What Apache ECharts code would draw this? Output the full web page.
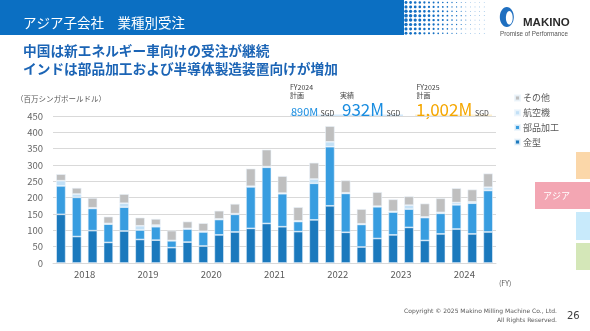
<!DOCTYPE html>
<html>
<head>
<meta charset="utf-8">
<script src="https://cdn.jsdelivr.net/npm/echarts@6/dist/echarts.min.js"></script>
<style>
html,body{margin:0;padding:0;background:#fff;}
#chart{width:590px;height:331px;}
</style>
</head>
<body>
<div id="chart"></div>
<script>
// Quarterly orders of the Asian subsidiaries by industry (million SGD)
const quarters = [
  '2018Q1','2018Q2','2018Q3','2018Q4','2019Q1','2019Q2','2019Q3','2019Q4',
  '2020Q1','2020Q2','2020Q3','2020Q4','2021Q1','2021Q2','2021Q3','2021Q4',
  '2022Q1','2022Q2','2022Q3','2022Q4','2023Q1','2023Q2','2023Q3','2023Q4',
  '2024Q1','2024Q2','2024Q3','2024Q4'
];
const years = ['2018','2019','2020','2021','2022','2023','2024'];
const yTicks = { min: 0, max: 450, step: 50 };

const mold      = [149, 81, 99, 63,  98, 72, 70, 47,  64, 52, 86, 95,  106,121,111, 96,  132,175, 94, 49,  75, 86,109, 69,  89,104, 89, 95];
const parts     = [ 87,120, 68, 56,  73, 29, 41, 21,  40, 43, 47, 54,  127,172,101, 31,  112,181,119, 69,  97, 70, 56, 70,  63, 74, 94,127];
const aerospace = [ 16, 10,  2,  2,  12, 13,  5,  1,   2,  2,  2,  2,    2,  2,  2,  2,   13, 15,  2,  2,   2,  2, 12,  2,   3,  7,  4, 10];
const other     = [ 20, 19, 30, 21,  28, 25, 19, 30,  21, 25, 25, 30,   54, 52, 52, 42,   50, 48, 38, 45,  43, 37, 27, 41,  43, 44, 38, 42];

const seriesDefs = [
  { name: '金型',     data: mold,      color: '#1b79bd' },
  { name: '部品加工', data: parts,     color: '#389de0' },
  { name: '航空機',   data: aerospace, color: '#c2e0f6' },
  { name: 'その他',   data: other,     color: '#bfbfbf' }
];

const JP = '"Noto Sans CJK JP", "Noto Sans", sans-serif';

// header halftone dots fading to the right
const dots = [];
for (let c = 0; c < 18; c++) {
  const x = 406 + c * 4.6;
  for (let r = 0; r < 8; r++) {
    const y = 2.5 + r * 4.4;
    const fade = 1 - c / 18;
    const mid = 1 - Math.abs(r - 3.5) / 6;
    const rad = Math.max(0.35, 1.9 * fade * (0.6 + 0.4 * mid));
    dots.push({ type: 'circle', silent: true,
      shape: { cx: x, cy: y, r: rad },
      style: { fill: '#1470c4' } });
  }
}

const chart = echarts.init(document.getElementById('chart'), null, { renderer: 'canvas' });

chart.setOption({
  animation: false,
  backgroundColor: '#ffffff',
  textStyle: { fontFamily: JP },
  grid: { left: 53, right: 94, top: 116, bottom: 68 },
  legend: {
    orient: 'vertical',
    left: 509, top: 88,
    itemWidth: 5, itemHeight: 5, itemGap: 4.7,
    icon: 'rect',
    data: ['その他', '航空機', '部品加工', '金型'],
    textStyle: { color: '#595959', fontSize: 9, fontFamily: JP, lineHeight: 10, padding: [0, 0, 0, -2] },
    selectedMode: false
  },
  xAxis: [
    { type: 'category', data: quarters, show: false },
    { type: 'category', data: years, position: 'bottom',
      axisLine: { lineStyle: { color: '#d9d9d9', width: 1 } },
      axisTick: { length: 20, lineStyle: { color: '#d9d9d9' } },
      axisLabel: { color: '#595959', fontSize: 9.5, margin: 7, fontFamily: JP } }
  ],
  yAxis: {
    type: 'value', min: yTicks.min, max: yTicks.max, interval: yTicks.step,
    axisLine: { show: false }, axisTick: { show: false },
    splitLine: { lineStyle: { color: '#d9d9d9', width: 1 } },
    axisLabel: { color: '#666666', fontSize: 9.5, margin: 10, fontFamily: JP }
  },
  series: seriesDefs.map(s => ({
    name: s.name, type: 'bar', stack: 'total', xAxisIndex: 0,
    data: s.data, barWidth: 9.5,
    itemStyle: { color: s.color, borderColor: 'rgba(235,244,252,0.85)', borderWidth: 0.7 }
  })),
  graphic: [
    // header band
    { type: 'rect', silent: true, shape: { x: 0, y: 0, width: 404, height: 35 }, style: { fill: '#0b6fc2' } },
    ...dots,
    { type: 'text', silent: true, style: { text: 'アジア子会社　業種別受注', x: 23, y: 23, verticalAlign: 'middle',
      font: '13.5px ' + JP, fill: '#ffffff' } },
    // logo
    { type: 'ellipse', silent: true, shape: { cx: 506.8, cy: 17, rx: 7, ry: 10 }, style: { fill: '#1f6fc0' } },
    { type: 'ellipse', silent: true, shape: { cx: 509.3, cy: 17.8, rx: 3.4, ry: 6.8 }, style: { fill: '#ffffff' } },
    { type: 'text', silent: true, style: { text: 'MAKINO', x: 523, y: 22.5, verticalAlign: 'middle',
      font: 'bold 11.5px "Liberation Sans", Arial, sans-serif', fill: '#2b2b2b' } },
    { type: 'text', silent: true, style: { text: 'Promise of Performance', x: 500, y: 34.5, verticalAlign: 'middle',
      font: '6.3px "Liberation Sans", Arial, sans-serif', fill: '#555555' } },
    // headline
    { type: 'text', silent: true, style: { text: '中国は新エネルギー車向けの受注が継続', x: 23, y: 51, verticalAlign: 'middle',
      font: 'bold 13.7px ' + JP, fill: '#1b64b5' } },
    { type: 'text', silent: true, style: { text: 'インドは部品加工および半導体製造装置向けが増加', x: 23, y: 68.5, verticalAlign: 'middle',
      font: 'bold 13.7px ' + JP, fill: '#1b64b5' } },
    // unit
    { type: 'text', silent: true, style: { text: '（百万シンガポールドル）', x: 16, y: 99, verticalAlign: 'middle',
      font: '7.5px ' + JP, fill: '#595959' } },
    // plan / result annotations
    { type: 'rect', silent: true, shape: { x: 290, y: 114.5, width: 113, height: 2 }, style: { fill: '#d3e9fb' } },
    { type: 'rect', silent: true, shape: { x: 415, y: 114.5, width: 77, height: 2 }, style: { fill: '#fdf0cf' } },
    { type: 'text', silent: true, style: { text: 'FY2024', x: 290, y: 87.5, verticalAlign: 'middle', font: '7px ' + JP, fill: '#404040' } },
    { type: 'text', silent: true, style: { text: '計画', x: 290, y: 95.5, verticalAlign: 'middle', font: '7px ' + JP, fill: '#404040' } },
    { type: 'text', silent: true, style: { text: '890M', x: 291, y: 112, verticalAlign: 'middle', font: '11px ' + JP, fill: '#1a8de0' } },
    { type: 'text', silent: true, style: { text: 'SGD', x: 320.5, y: 113, verticalAlign: 'middle', font: '7px ' + JP, fill: '#404040' } },
    { type: 'text', silent: true, style: { text: '実績', x: 340, y: 95.5, verticalAlign: 'middle', font: '7px ' + JP, fill: '#404040' } },
    { type: 'text', silent: true, style: { text: '932M', x: 342, y: 109.5, verticalAlign: 'middle', font: '17px ' + JP, fill: '#1a8de0' } },
    { type: 'text', silent: true, style: { text: 'SGD', x: 386.5, y: 113, verticalAlign: 'middle', font: '7px ' + JP, fill: '#404040' } },
    { type: 'text', silent: true, style: { text: 'FY2025', x: 416.5, y: 87.5, verticalAlign: 'middle', font: '7px ' + JP, fill: '#404040' } },
    { type: 'text', silent: true, style: { text: '計画', x: 416.5, y: 95.5, verticalAlign: 'middle', font: '7px ' + JP, fill: '#404040' } },
    { type: 'text', silent: true, style: { text: '1,002M', x: 416, y: 109.5, verticalAlign: 'middle', font: '17px ' + JP, fill: '#f5a700' } },
    { type: 'text', silent: true, style: { text: 'SGD', x: 475, y: 113, verticalAlign: 'middle', font: '7px ' + JP, fill: '#404040' } },
    // fiscal year unit
    { type: 'text', silent: true, style: { text: '(FY)', x: 499, y: 283, verticalAlign: 'middle', font: '7px ' + JP, fill: '#595959' } },
    // region tabs
    { type: 'rect', silent: true, shape: { x: 576, y: 152, width: 14, height: 27 }, style: { fill: '#fbd7a9' } },
    { type: 'rect', silent: true, shape: { x: 535, y: 182, width: 55, height: 27 }, style: { fill: '#f3a6b3' } },
    { type: 'text', silent: true, style: { text: 'アジア', x: 543, y: 196, verticalAlign: 'middle', font: '9px ' + JP, fill: '#ffffff' } },
    { type: 'rect', silent: true, shape: { x: 576, y: 212, width: 14, height: 28 }, style: { fill: '#c8eafb' } },
    { type: 'rect', silent: true, shape: { x: 576, y: 243, width: 14, height: 27 }, style: { fill: '#d4e7b8' } },
    // footer
    { type: 'text', silent: true, style: { text: 'Copyright © 2025 Makino Milling Machine Co., Ltd.', x: 557, y: 311, align: 'right', verticalAlign: 'middle',
      font: '6px "DejaVu Sans", sans-serif', fill: '#595959' } },
    { type: 'text', silent: true, style: { text: 'All Rights Reserved.', x: 557, y: 320.5, align: 'right', verticalAlign: 'middle',
      font: '6px "DejaVu Sans", sans-serif', fill: '#595959' } },
    { type: 'text', silent: true, style: { text: '26', x: 567, y: 316, verticalAlign: 'middle',
      font: '10px "DejaVu Sans", sans-serif', fill: '#404040' } }
  ]
});
</script>
</body>
</html>
